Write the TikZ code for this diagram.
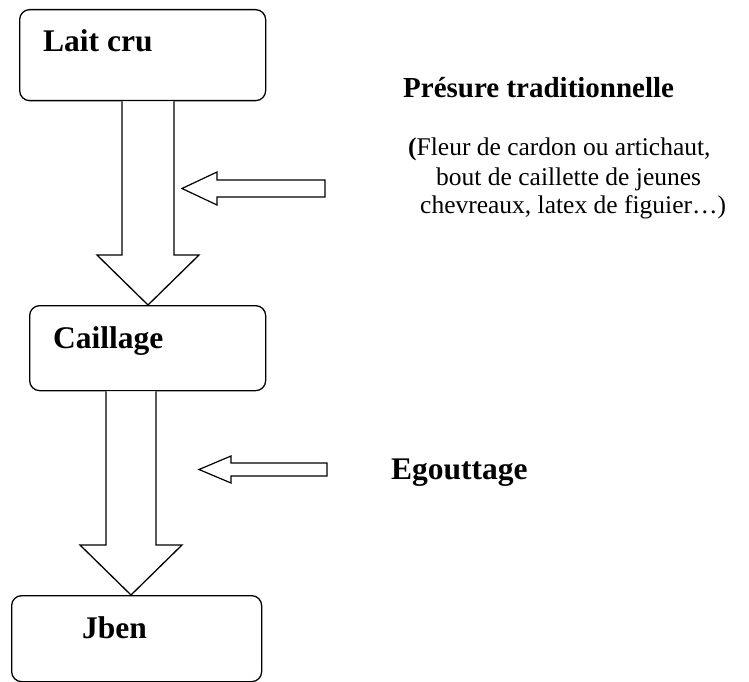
\documentclass[tikz,border=0pt]{standalone}
\usepackage{fontspec}
\setmainfont{Liberation Serif}
\usetikzlibrary{calc}
\begin{document}
\begin{tikzpicture}[x=1pt,y=-1pt,
  box/.style={draw=black,line width=1.3pt,rounded corners=10pt,inner sep=0pt,anchor=north west},
  fat/.style={draw=black,line width=1.3pt,fill=white,line join=miter},
  thin/.style={draw=black,line width=1.2pt,fill=white,line join=miter},
  lbl/.style={inner sep=0pt,anchor=base west,font=\fontsize{31.5}{36}\selectfont\bfseries},
  note/.style={inner sep=0pt,anchor=base west,font=\fontsize{25.5}{29}\selectfont}]
\useasboundingbox (0,0) rectangle (749,682);
% boxes
\node[box,minimum width=246pt,minimum height=91pt] (b1) at (19,9) {};
\node[box,minimum width=236pt,minimum height=85pt] (b2) at (29,305) {};
\node[box,minimum width=250pt,minimum height=86pt] (b3) at (11,595) {};
% box labels
\node[lbl] (t1) at (43,52) {Lait cru};
\node[lbl] (t2) at (53,348) {Caillage};
\node[lbl] (t3) at (82,638) {Jben};
% big arrows
\coordinate (x1) at (148,0);
\coordinate (x2) at (131,0);
\path (b1.south -| x1) coordinate (s1) (b2.north -| x1) coordinate (e1);
\path (b2.south -| x2) coordinate (s2) (b3.north -| x2) coordinate (e2);
\draw[fat] ([xshift=-26pt]s1) -- ([xshift=-26pt,yshift=50pt]e1) -- ([xshift=-51pt,yshift=50pt]e1)
  -- (e1) -- ([xshift=51pt,yshift=50pt]e1) -- ([xshift=26pt,yshift=50pt]e1) -- ([xshift=26pt]s1);
\draw[fat] ([xshift=-25pt]s2) -- ([xshift=-25pt,yshift=50pt]e2) -- ([xshift=-51pt,yshift=50pt]e2)
  -- (e2) -- ([xshift=51pt,yshift=50pt]e2) -- ([xshift=25pt,yshift=50pt]e2) -- ([xshift=25pt]s2);
% side arrows
\coordinate (p1) at (182,188.5);
\coordinate (p2) at (199,469.5);
\draw[thin] (p1) -- ++(35,-16.5) -- ++(0,8) -- (325,180) -- (325,197) -- (217,197) -- ++(0,8) -- cycle;
\draw[thin] (p2) -- ++(32,-13.5) -- ++(0,7) -- (327,463) -- (327,476) -- (231,476) -- ++(0,7) -- cycle;
% texts
\node[inner sep=0pt,anchor=base west,font=\fontsize{29}{33}\selectfont\bfseries] (pr) at (403,98) {Présure traditionnelle};
\node[note] (n1) at (408,155) {\textbf{(}Fleur de cardon ou artichaut,};
\node[note] (n2) at (436,185) {bout de caillette de jeunes};
\node[note] (n3) at (420,213) {chevreaux, latex de figuier…)};
\node[lbl] (eg) at (391,479) {Egouttage};
\end{tikzpicture}
\end{document}
